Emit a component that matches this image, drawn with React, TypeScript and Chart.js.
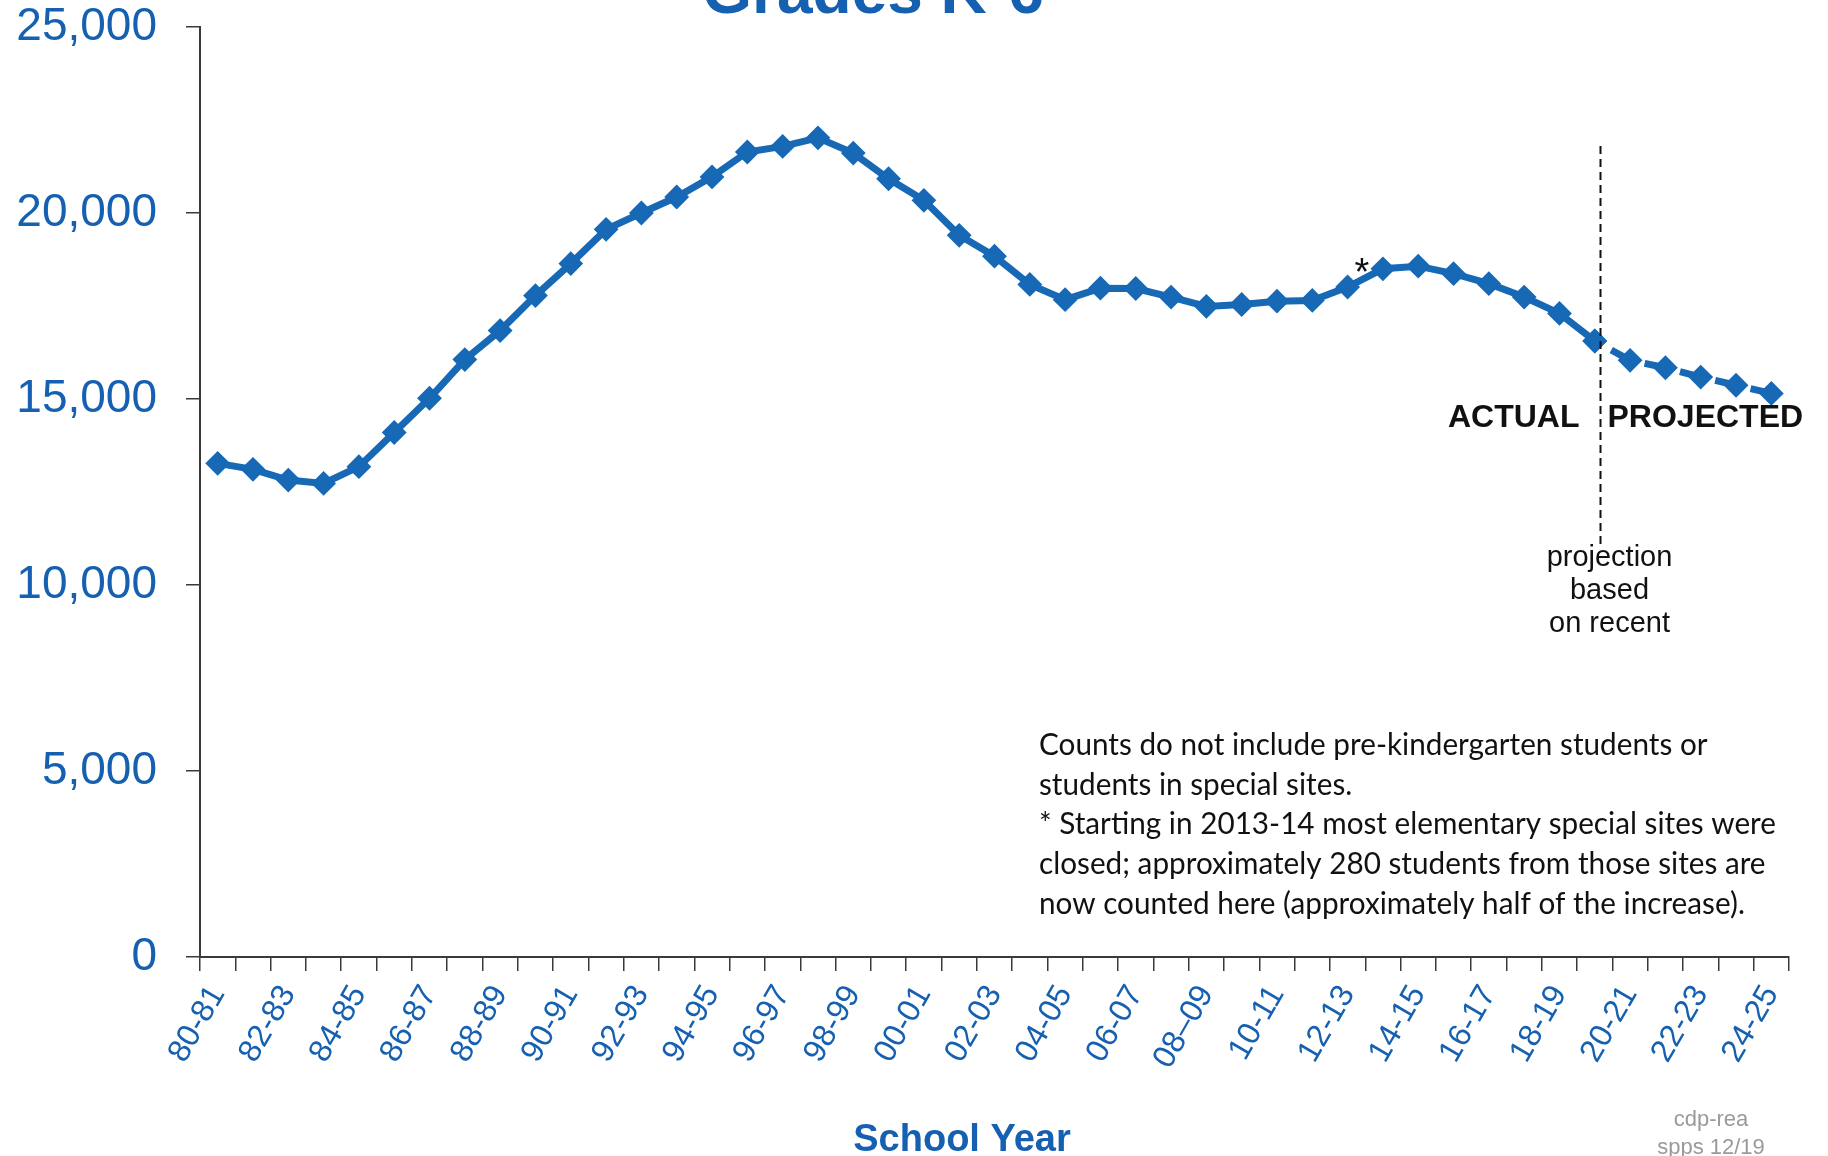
import React, { useEffect, useRef } from 'react';
import { Chart, registerables } from 'chart.js';

Chart.register(...registerables);

// ---------- data ----------
const schoolYears: string[] = [
  '80-81', '81-82', '82-83', '83-84', '84-85', '85-86', '86-87', '87-88', '88-89', '89-90',
  '90-91', '91-92', '92-93', '93-94', '94-95', '95-96', '96-97', '97-98', '98-99', '99-00',
  '00-01', '01-02', '02-03', '03-04', '04-05', '05-06', '06-07', '07-08', '08–09', '09-10',
  '10-11', '11-12', '12-13', '13-14', '14-15', '15-16', '16-17', '17-18', '18-19', '19-20',
  '20-21', '21-22', '22-23', '23-24', '24-25',
];

// Actual enrollment, 80-81 through 19-20
const actualEnrollment: number[] = [
  13270, 13110, 12820, 12730, 13180, 14100, 15020, 16060, 16840, 17780,
  18640, 19560, 20000, 20430, 20970, 21640, 21790, 22020, 21610, 20920,
  20340, 19400, 18840, 18080, 17670, 17980, 17970, 17740, 17490, 17540,
  17630, 17650, 18010, 18500, 18570, 18370, 18100, 17740, 17300, 16560,
];

// Projected enrollment, 19-20 (joining point) through 24-25
const projectedEnrollment: number[] = [16560, 16040, 15840, 15590, 15370, 15150];

const yMin = 0;
const yMax = 25000;
const yStep = 5000;

const titleText = 'Grades K-6';
const xAxisTitle = 'School Year';
const actualLabel = 'ACTUAL';
const projectedLabel = 'PROJECTED';
const projectionNote: string[] = ['projection', 'based', 'on recent'];
const footnoteLines: string[] = [
  'Counts do not include pre-kindergarten students or',
  'students in special sites.',
  '* Starting in 2013-14 most elementary special sites were',
  'closed; approximately 280 students from those sites are',
  'now counted here (approximately half of the increase).',
];
const creditLines: string[] = ['cdp-rea', 'spps 12/19'];

// ---------- styles ----------
const LINE_BLUE = '#1769b6';
const TEXT_BLUE = '#1560b0';
const AXIS_COLOR = '#3a3a3a';
const SANS = '"Liberation Sans", Arial, sans-serif';

const projStart = actualEnrollment.length - 1;
const actualData = schoolYears.map((_, i) => (i < actualEnrollment.length ? actualEnrollment[i] : null));
const projectedData = schoolYears.map((_, i) =>
  i >= projStart && i - projStart < projectedEnrollment.length ? projectedEnrollment[i - projStart] : null
);

const annotationPlugin = {
  id: 'gradesAnnotations',
  afterDraw(chart: any) {
    const ctx: CanvasRenderingContext2D = chart.ctx;
    const xs = chart.scales.x;
    const ys = chart.scales.y;
    ctx.save();

    // Title (partially cut off at top)
    ctx.fillStyle = TEXT_BLUE;
    ctx.font = `bold 64px ${SANS}`;
    ctx.textAlign = 'center';
    ctx.textBaseline = 'alphabetic';
    ctx.fillText(titleText, 873, 13);

    // Divider between actual and projected
    const spacing = xs.getPixelForValue(1) - xs.getPixelForValue(0);
    const divX = Math.round(xs.getPixelForValue(projStart) + spacing * 0.15) + 0.5;
    ctx.strokeStyle = '#111';
    ctx.lineWidth = 2;
    ctx.setLineDash([8, 5]);
    ctx.beginPath();
    ctx.moveTo(divX, ys.getPixelForValue(21800));
    ctx.lineTo(divX, ys.getPixelForValue(11050));
    ctx.stroke();
    ctx.setLineDash([]);

    // ACTUAL / PROJECTED
    ctx.fillStyle = '#111';
    ctx.font = `bold 32px ${SANS}`;
    ctx.textAlign = 'right';
    ctx.fillText(actualLabel, divX - 21, 427);
    ctx.textAlign = 'left';
    ctx.fillText(projectedLabel, divX + 7, 427);

    // projection note
    ctx.font = `29px ${SANS}`;
    ctx.textAlign = 'center';
    projectionNote.forEach((t, i) => ctx.fillText(t, divX + 9, 566 + i * 33));

    // asterisk at 13-14
    ctx.font = `38px ${SANS}`;
    ctx.textAlign = 'center';
    ctx.fillText('*', 1362, 285);

    // footnote (Calibri-like, condensed)
    ctx.font = `31px Lato, "Open Sans", sans-serif`;
    ctx.textAlign = 'left';
    const w3 = ctx.measureText(footnoteLines[2]).width;
    const sx = 737 / w3;
    footnoteLines.forEach((t, i) => {
      ctx.save();
      ctx.translate(1039, 755 + i * 39.7);
      ctx.scale(sx, 1);
      ctx.fillText(t, 0, 0);
      ctx.restore();
    });

    // x axis title
    ctx.fillStyle = TEXT_BLUE;
    ctx.font = `bold 38px ${SANS}`;
    ctx.textAlign = 'center';
    ctx.fillText(xAxisTitle, 962, 1151);

    // credit
    ctx.fillStyle = '#9a9a9a';
    ctx.font = `22px ${SANS}`;
    ctx.fillText(creditLines[0], 1711, 1126);
    ctx.fillText(creditLines[1], 1711, 1154);

    ctx.restore();
  },
};

export default function App() {
  const canvasRef = useRef<HTMLCanvasElement | null>(null);

  useEffect(() => {
    if (!canvasRef.current) return;
    Chart.defaults.font.family = SANS;
    const chart = new Chart(canvasRef.current, {
      type: 'line',
      data: {
        labels: schoolYears,
        datasets: [
          {
            label: 'Actual',
            data: actualData,
            borderColor: LINE_BLUE,
            backgroundColor: LINE_BLUE,
            borderWidth: 7,
            pointStyle: 'rectRot',
            pointRadius: 11,
            pointBorderWidth: 2,
            pointBackgroundColor: LINE_BLUE,
            pointBorderColor: LINE_BLUE,
            tension: 0,
            spanGaps: false,
          },
          {
            label: 'Projected',
            data: projectedData,
            borderColor: LINE_BLUE,
            backgroundColor: LINE_BLUE,
            borderWidth: 7,
            borderDash: [26, 10.3],
            borderDashOffset: 17.5,
            pointStyle: 'rectRot',
            pointRadius: 11,
            pointBorderWidth: 2,
            pointBackgroundColor: LINE_BLUE,
            pointBorderColor: LINE_BLUE,
            tension: 0,
            spanGaps: false,
          },
        ],
      },
      options: {
        responsive: false,
        maintainAspectRatio: false,
        animation: false,
        devicePixelRatio: 1,
        layout: { padding: { top: 27, right: 39, left: 0, bottom: 0 } },
        plugins: {
          legend: { display: false },
          tooltip: { enabled: false },
          title: { display: false },
        },
        scales: {
          x: {
            type: 'category',
            offset: true,
            grid: {
              offset: true,
              drawOnChartArea: false,
              drawTicks: true,
              tickLength: 14,
              color: AXIS_COLOR,
              lineWidth: 1.5,
            },
            border: { display: true, color: AXIS_COLOR, width: 2 },
            ticks: {
              autoSkip: false,
              maxRotation: 60,
              minRotation: 60,
              padding: 8,
              color: TEXT_BLUE,
              font: { family: SANS, size: 32 },
              callback: function (this: any, val: any, idx: number) {
                return idx % 2 === 0 ? this.getLabelForValue(val) : '';
              },
            },
            afterFit: (s: any) => {
              s.height = 199;
            },
          },
          y: {
            min: yMin,
            max: yMax,
            ticks: {
              stepSize: yStep,
              padding: 29,
              color: TEXT_BLUE,
              font: { family: SANS, size: 46 },
            },
            grid: {
              drawOnChartArea: false,
              drawTicks: true,
              tickLength: 14,
              color: AXIS_COLOR,
              lineWidth: 1.5,
            },
            border: { display: true, color: AXIS_COLOR, width: 2 },
            afterFit: (s: any) => {
              s.width = 200;
              s.paddingTop = 0;
              s.paddingBottom = 0;
            },
          },
        },
      },
      plugins: [annotationPlugin],
    } as any);
    return () => chart.destroy();
  }, []);

  return (
    <div style={{ position: 'absolute', left: 0, top: 0, width: 1828, height: 1156, background: '#fff' }}>
      <canvas ref={canvasRef} width={1828} height={1156} style={{ display: 'block', width: 1828, height: 1156 }} />
    </div>
  );
}
